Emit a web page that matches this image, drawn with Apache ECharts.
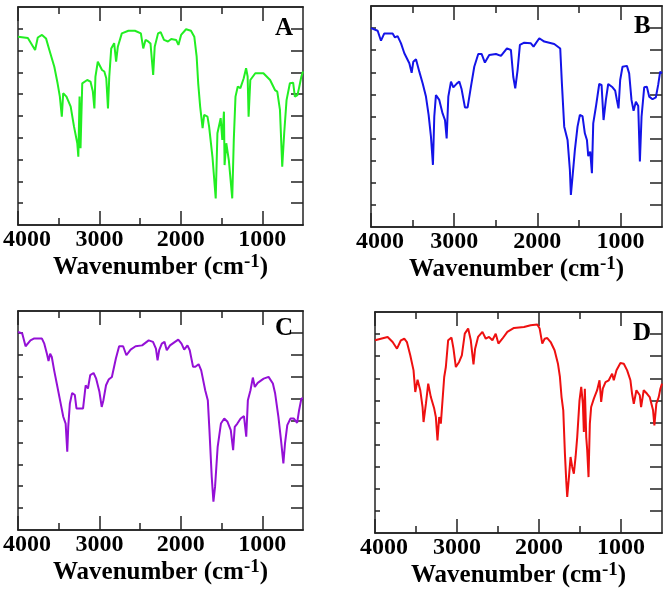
<!DOCTYPE html>
<html>
<head>
<meta charset="utf-8">
<script src="https://cdn.jsdelivr.net/npm/echarts@6/dist/echarts.min.js"></script>
<style>
html,body{margin:0;padding:0;background:#fff;}
#main{width:669px;height:591px;}
</style>
</head>
<body>
<div id="main"></div>
<script>
// wavenumber (cm-1) / transmittance (arbitrary %)
var waveA = [4000,3879,3790,3757,3705,3656,3615,3554,3514,3486,3462,3445,3421,3405,3381,3353,3312,3272,3259,3244,3232,3211,3150,3110,3081,3062,3049,3020,2968,2940,2916,2895,2879,2855,2819,2795,2774,2725,2644,2564,2491,2462,2434,2401,2373,2340,2321,2280,2248,2207,2158,2118,2058,2030,1997,1936,1876,1835,1806,1787,1763,1733,1714,1673,1653,1612,1572,1551,1511,1491,1471,1463,1442,1411,1369,1350,1329,1301,1269,1228,1199,1180,1168,1147,1086,986,904,844,816,783,755,731,702,661,621,600,568,549,520,500];
var transA = [86.4,85.8,80.3,86,87.2,85.6,80.3,72.6,65,58.9,49.7,60.4,61.2,58.9,58.1,54.3,45.1,37.5,31.3,58.9,35.2,65,66.5,65.8,61.2,53.5,68.1,74.9,71.1,70.4,67.3,53.5,68.1,81,83.4,74.9,81.8,87.9,89.1,89.1,87.9,81,84.9,84.2,83.3,68.8,81.8,87.9,88.5,84.9,84.2,85.3,84.9,82.6,87.2,89.8,89.1,86.4,77.2,65,54.3,44.4,50.5,49.7,45.1,31.3,12.2,42.1,49,39,52,27.5,37.5,29.8,12.2,39,58.9,63.5,62.8,67.3,71.9,68.1,49.7,66.5,69.6,69.6,66.5,61.9,61.2,52.8,26.7,42.1,57.3,65,65.3,58.9,59.6,62.8,68.1,70.4];

var waveB = [4000,3920,3880,3840,3740,3712,3680,3639,3599,3539,3511,3491,3459,3419,3379,3339,3307,3279,3255,3239,3219,3179,3139,3110,3090,3070,3038,3010,2966,2938,2910,2870,2838,2798,2758,2710,2670,2630,2578,2497,2437,2365,2317,2289,2265,2237,2209,2157,2077,2045,1976,1916,1796,1724,1704,1676,1636,1608,1596,1576,1548,1516,1488,1456,1428,1403,1387,1363,1343,1327,1295,1255,1227,1203,1175,1147,1095,1063,1043,1023,1003,975,922,895,867,842,814,786,766,746,714,682,654,614,574,546,522,500];
var transB = [90,88.8,84.3,87.6,87.6,85.8,86.4,83.1,78.6,74.1,69.8,74.8,75.9,70.3,65,59,50.7,40.9,28.1,49.9,59.7,57.5,51.4,48.4,40.1,59,65.8,63.2,65,65.8,62.3,54.1,54.1,63.5,72.5,78.3,78.3,74.4,77.8,78.3,77.4,80.8,80.1,68,62.7,71,82.4,83.4,83.1,81.6,85.4,83.9,82.8,80.8,65,45.4,39.4,25.8,14.5,22.8,34.8,45.4,50.7,50.2,42.4,39.4,32.1,34.1,24.3,46.9,54.4,64.7,64.3,48.4,57.5,64.7,63.2,61.7,57.5,53.7,66.5,72.5,72.9,69.5,57.5,52.6,56.7,54.8,29.6,49.9,63.2,63.5,59,57.8,58.7,64.3,70.3,69.5];

var waveC = [4000,3948,3907,3847,3806,3706,3677,3645,3625,3605,3585,3556,3524,3484,3444,3415,3395,3383,3363,3335,3302,3282,3201,3169,3141,3113,3072,3040,3000,2972,2951,2919,2887,2847,2798,2758,2709,2669,2617,2556,2476,2395,2342,2306,2286,2266,2234,2201,2173,2133,2072,2032,1992,1959,1919,1891,1850,1822,1782,1750,1701,1669,1649,1621,1600,1580,1548,1508,1467,1427,1387,1358,1338,1306,1266,1225,1197,1177,1145,1116,1092,1056,983,923,870,842,802,770,741,721,693,653,612,572,548,520,500];
var transC = [90.4,89.7,83.9,86.6,87.4,87.4,85.1,80.5,77.2,80.5,79,72.9,66.9,59.3,51.7,48.6,35.7,47.1,57.8,62.6,61.6,55.5,55.5,66.1,64.6,70.7,71.7,69.1,63.1,56.2,59.3,66.1,68.7,69.9,78.3,83.9,83.9,79.8,82.4,83.9,84.3,86.6,85.9,82.8,77.5,82.1,85.1,85.9,82.1,84.3,85.9,86.9,85.1,82.4,84.3,82.1,74.5,74.5,75.7,72.9,63.8,59.3,45.6,24.3,12.9,19.8,38,48.6,50.9,49.4,45.6,36.5,47.1,48.6,50.9,52,42.6,59.3,63.8,69.6,65.3,67.2,69.1,69.9,66.9,62.3,51.7,41,30.4,39.5,47.9,50.9,50.9,48.9,54.7,60,60];

var waveD = [4000,3846,3785,3732,3684,3643,3611,3570,3530,3509,3481,3448,3420,3408,3379,3351,3319,3278,3258,3238,3217,3197,3173,3156,3136,3108,3067,3043,3014,2974,2941,2905,2864,2832,2799,2779,2743,2690,2649,2609,2568,2528,2495,2447,2386,2305,2183,2102,2021,1992,1960,1931,1899,1858,1810,1769,1745,1725,1704,1684,1668,1656,1635,1615,1595,1575,1554,1534,1506,1485,1465,1453,1441,1424,1412,1396,1380,1364,1331,1291,1262,1242,1222,1189,1149,1108,1088,1055,1007,966,925,885,865,844,812,771,755,723,682,650,609,593,569,540,520,500];
var transD = [87.2,88.7,86.4,83.4,87.2,87.9,86.4,80.4,73.6,63.8,69.4,64.6,57,50.2,58.5,67.6,61.5,56.3,52.5,41.9,52.5,49.5,49.5,70.6,75.1,87.2,88.4,83.4,75.1,77.4,80.4,90.2,92.5,87.2,76.3,83.4,88.7,91,87.9,88.7,87.2,90.2,85.7,87.9,91,92.8,93.2,94,94.3,92.5,85.7,87.9,88.2,86.4,82.7,76.6,70.6,61.5,55.5,35.9,23.8,16.3,25.3,34.4,29.9,26.8,34.4,43.4,60,66.1,58.5,45.7,65.3,43.4,37.4,25.3,49.5,57,60.8,64.6,69.1,59.3,65.3,68.3,69.1,72.1,69.1,73.6,76.9,76.6,73.6,69.1,63,58.5,64.6,62.3,57,64.6,63,61.5,55.5,48.7,58.5,61.5,65.3,67.6];

var majorTicks = [1000, 2000, 3000, 4000];
var minorTicks = [1500, 2500, 3500];
var yTicks = [10, 20, 30, 40, 50, 60, 70, 80, 90];

var panels = [
	{name:'A', wave:waveA, trans:transA, color:'#22ee22', box:[15, 7, 288, 218], tag:[275, 16]},
	{name:'B', wave:waveB, trans:transB, color:'#1414e8', box:[371, 6, 291, 221], tag:[634, 14]},
	{name:'C', wave:waveC, trans:transC, color:'#9410d6', box:[14, 311, 289, 219], tag:[275, 316]},
	{name:'D', wave:waveD, trans:transD, color:'#ee1010', box:[375, 312, 287, 221], tag:[633, 321]}
];

var FONT = '"Liberation Serif","Times New Roman",serif';
var FRAME = '#222';

function xAxisOf(i, pos, ticks, len, withLabels){
	var ax = {
		gridIndex: i, type: 'value', position: pos,
		min: 500, max: 4000, interval: 500, inverse: true,
		axisLine: {show: true, onZero: false, lineStyle: {color: FRAME, width: 1.5}},
		axisTick: {show: true, inside: true, length: len, customValues: ticks, lineStyle: {color: FRAME, width: 1.5}},
		axisLabel: {show: false},
		splitLine: {show: false}
	};
	if(withLabels){
		ax.axisLabel = {
			show: true, margin: 3, customValues: majorTicks,
			fontFamily: FONT, fontWeight: 'bold', fontSize: 24, color: '#000',
			formatter: function(v){ return v === 4000 ? '{f|4000}' : String(v); },
			rich: {f: {fontFamily: FONT, fontWeight: 'bold', fontSize: 24, color: '#000', padding: [0, 0, 0, 18]}}
		};
		ax.name = '{a|Wavenumber (cm}{s|-1}{a|)}';
		ax.nameLocation = 'middle';
		ax.nameGap = 27;
		ax.nameTextStyle = {
			rich: {
				a: {fontFamily: FONT, fontWeight: 'bold', fontSize: 25, color: '#000', lineHeight: 30},
				s: {fontFamily: FONT, fontWeight: 'bold', fontSize: 19, color: '#000', lineHeight: 19, verticalAlign: 'top'}
			}
		};
	}
	return ax;
}

function yAxisOf(i, pos, len){
	return {
		gridIndex: i, type: 'value', position: pos,
		min: 0, max: 100, interval: 10,
		axisLine: {show: true, lineStyle: {color: FRAME, width: 1.5}},
		axisTick: {show: true, inside: true, length: len, customValues: yTicks, lineStyle: {color: FRAME, width: 1.5}},
		axisLabel: {show: false},
		splitLine: {show: false}
	};
}

var grids = [], xAxes = [], yAxes = [], series = [], titles = [];

panels.forEach(function(p, i){
	grids.push({left: p.box[0], top: p.box[1], width: p.box[2], height: p.box[3], containLabel: false});

	var xb = xAxes.length;
	xAxes.push(xAxisOf(i, 'bottom', majorTicks, 14, true));
	xAxes.push(xAxisOf(i, 'bottom', minorTicks, 7, false));
	xAxes.push(xAxisOf(i, 'top', majorTicks, 14, false));
	xAxes.push(xAxisOf(i, 'top', minorTicks, 7, false));

	var yb = yAxes.length;
	yAxes.push(yAxisOf(i, 'left', 5));
	yAxes.push(yAxisOf(i, 'right', 12));

	series.push({
		type: 'line', name: p.name,
		xAxisIndex: xb, yAxisIndex: yb,
		showSymbol: false, symbol: 'none',
		lineStyle: {color: p.color, width: 2},
		itemStyle: {color: p.color},
		data: p.wave.map(function(w, k){ return [w, p.trans[k]]; })
	});

	titles.push({
		text: p.name, left: p.tag[0], top: p.tag[1], padding: 0,
		textStyle: {fontFamily: FONT, fontWeight: 'bold', fontSize: 25, color: '#000'}
	});
});

var myChart = echarts.init(document.getElementById('main'), null, {renderer: 'canvas'});
myChart.setOption({
	animation: false,
	backgroundColor: '#fff',
	title: titles,
	grid: grids,
	xAxis: xAxes,
	yAxis: yAxes,
	series: series
});
</script>
</body>
</html>
